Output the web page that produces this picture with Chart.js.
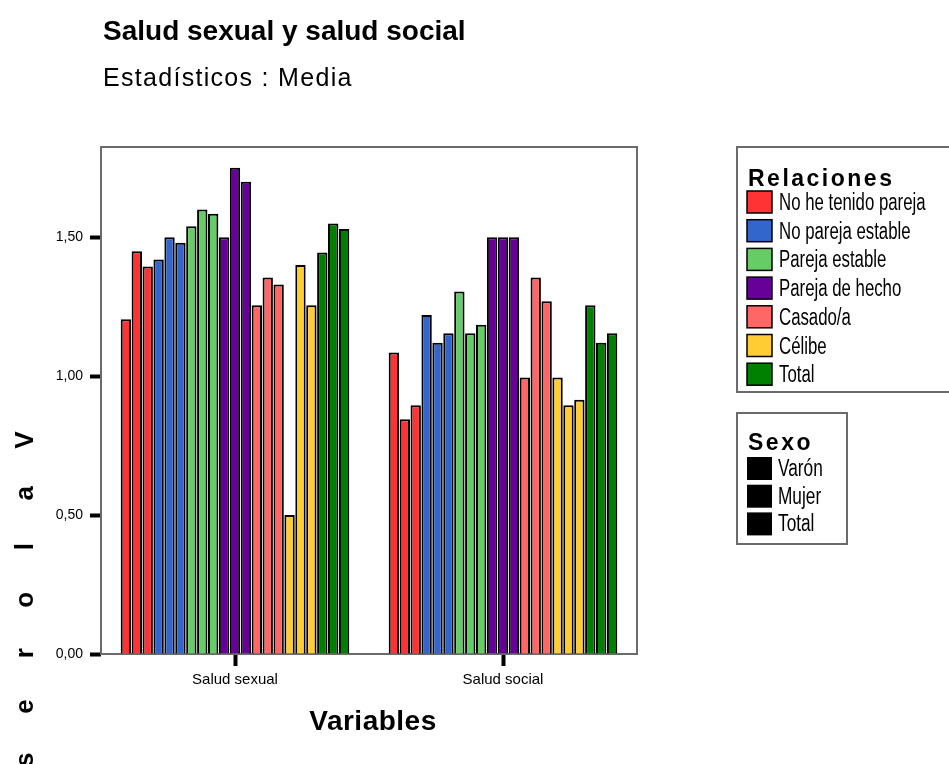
<!DOCTYPE html>
<html>
<head>
    <title>Salud sexual y salud social</title>
    <script src="https://cdn.jsdelivr.net/npm/chart.js"></script>
    <style>
        body { margin: 0; background: #fff; }
        #wrap { width: 949px; height: 764px; position: relative; }
    </style>
</head>
<body>
    <div id="wrap"><canvas id="mediaChart" width="949" height="764"></canvas></div>

    <script>
        // data (medias)
        const variables = ['Salud sexual', 'Salud social'];
        const relaciones = ['No he tenido pareja', 'No pareja estable', 'Pareja estable',
            'Pareja de hecho', 'Casado/a', 'Célibe', 'Total'];
        const sexos = ['Varón', 'Mujer', 'Total'];
        const relColors = ['#ff3333', '#3366cc', '#66cc66', '#660099', '#ff6666', '#ffcc33', '#008000'];
        const yTicks = [0, 0.5, 1, 1.5];

        // one triple per relación: Varón, Mujer, Total
        const saludSexual = [
            [1.205, 1.45, 1.395],
            [1.42, 1.50, 1.48],
            [1.54, 1.60, 1.585],
            [1.50, 1.75, 1.70],
            [1.255, 1.355, 1.33],
            [0.50, 1.40, 1.255],
            [1.445, 1.55, 1.53]
        ];
        const saludSocial = [
            [1.085, 0.845, 0.895],
            [1.22, 1.12, 1.155],
            [1.305, 1.155, 1.185],
            [1.50, 1.50, 1.50],
            [0.995, 1.355, 1.27],
            [0.995, 0.895, 0.915],
            [1.255, 1.12, 1.155]
        ];

        const FONT = '"Liberation Sans", Arial, sans-serif';

        const datasets = [];
        relaciones.forEach((rel, r) => {
            sexos.forEach((sx, s) => {
                datasets.push({
                    label: rel + ' - ' + sx,
                    data: [saludSexual[r][s], saludSocial[r][s]],
                    backgroundColor: relColors[r],
                    borderColor: '#000',
                    borderWidth: 2,
                    categoryPercentage: 0.855,
                    barPercentage: 0.95
                });
            });
        });

        // text that is taller than wide in the original
        function narrowText(ctx, txt, x, y, scaleX) {
            ctx.save();
            ctx.translate(x, y);
            ctx.scale(scaleX, 1);
            ctx.fillText(txt, 0, 0);
            ctx.restore();
        }

        const decor = {
            id: 'decor',
            beforeDatasetsDraw(chart) {
                const ctx = chart.ctx;
                const a = chart.chartArea;
                ctx.save();
                ctx.strokeStyle = '#6b6b6b';
                ctx.lineWidth = 2;
                ctx.strokeRect(a.left, a.top, a.right - a.left, a.bottom - a.top);
                ctx.restore();
            },
            afterDraw(chart) {
                const ctx = chart.ctx;
                ctx.save();
                ctx.fillStyle = '#000';
                ctx.textBaseline = 'alphabetic';
                ctx.textAlign = 'left';

                ctx.font = 'bold 28px ' + FONT;
                ctx.fillText('Salud sexual y salud social', 103, 40);
                ctx.font = '25px ' + FONT;
                ctx.letterSpacing = '1.3px';
                ctx.fillText('Estadísticos : Media', 103, 86);

                // x title
                ctx.letterSpacing = '0.5px';
                ctx.textAlign = 'center';
                ctx.font = 'bold 28px ' + FONT;
                ctx.fillText('Variables', 373, 730);
                ctx.letterSpacing = '0px';

                // y title, letters one by one
                ctx.font = 'bold 26px ' + FONT;
                ctx.textBaseline = 'middle';
                const word = 'Valores';
                for (let i = 0; i < word.length; i++) {
                    ctx.save();
                    ctx.translate(26, 440 + i * 53.3);
                    ctx.rotate(-Math.PI / 2);
                    ctx.fillText(word[i], 0, 0);
                    ctx.restore();
                }

                // legend boxes
                ctx.strokeStyle = '#6b6b6b';
                ctx.lineWidth = 2;
                ctx.strokeRect(737, 147, 300, 245);
                ctx.strokeRect(737, 413, 110, 131);

                ctx.textAlign = 'left';
                ctx.textBaseline = 'alphabetic';
                ctx.font = 'bold 23px ' + FONT;
                ctx.letterSpacing = '2.5px';
                ctx.fillText('Relaciones', 748, 186);
                ctx.fillText('Sexo', 748, 450);
                ctx.letterSpacing = '0px';

                ctx.font = '23px ' + FONT;
                ctx.strokeStyle = '#000';
                ctx.lineWidth = 1.5;
                relaciones.forEach((rel, i) => {
                    const y = 191 + i * 28.7;
                    ctx.fillStyle = relColors[i];
                    ctx.fillRect(747, y, 25, 22);
                    ctx.strokeRect(747, y, 25, 22);
                    ctx.fillStyle = '#000';
                    narrowText(ctx, rel, 779, y + 19, 0.73);
                });
                sexos.forEach((sx, i) => {
                    const y = 457 + i * 27.7;
                    ctx.fillStyle = '#000';
                    ctx.fillRect(747, y, 25, 23);
                    narrowText(ctx, sx, 778, y + 19, 0.75);
                });
                ctx.restore();
            }
        };

        const ctx = document.getElementById('mediaChart').getContext('2d');
        new Chart(ctx, {
            type: 'bar',
            data: {
                labels: variables,
                datasets: datasets
            },
            options: {
                responsive: false,
                animation: false,
                layout: {
                    padding: { top: 147, right: 312, left: 0, bottom: 0 }
                },
                plugins: {
                    legend: { display: false },
                    title: { display: false },
                    tooltip: { enabled: false }
                },
                scales: {
                    x: {
                        afterFit: scale => { scale.height = 110; },
                        border: { display: false },
                        grid: {
                            display: true,
                            drawOnChartArea: false,
                            offset: false,
                            tickLength: 12,
                            tickWidth: 4,
                            tickColor: '#000'
                        },
                        ticks: {
                            color: '#000',
                            padding: 5,
                            font: { family: FONT, size: 15 }
                        }
                    },
                    y: {
                        min: 0,
                        max: 1.825,
                        afterFit: scale => { scale.width = 101; },
                        afterBuildTicks: scale => {
                            scale.ticks = yTicks.map(v => ({ value: v }));
                        },
                        border: { display: false },
                        grid: {
                            display: true,
                            drawOnChartArea: false,
                            tickLength: 11,
                            tickWidth: 4,
                            tickColor: '#000'
                        },
                        ticks: {
                            color: '#000',
                            padding: 7,
                            font: { family: FONT, size: 14 },
                            callback: v => v.toFixed(2).replace('.', ',')
                        }
                    }
                }
            },
            plugins: [decor]
        });
    </script>
</body>
</html>
